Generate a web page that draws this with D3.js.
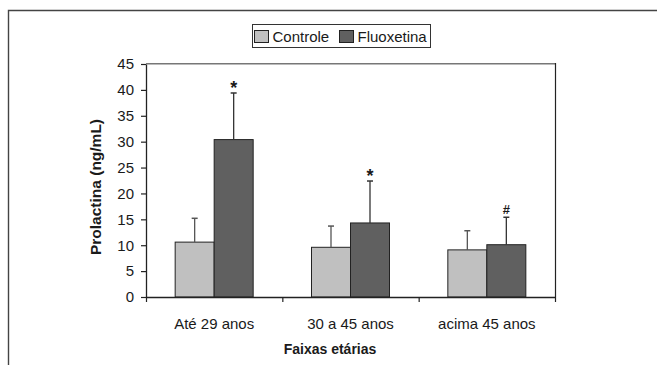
<!DOCTYPE html>
<html>
<head>
<meta charset="utf-8">
<script src="https://cdn.jsdelivr.net/npm/d3@7"></script>
<style>
  html, body { margin: 0; padding: 0; background: #fff; }
  svg { display: block; font-family: "Liberation Sans", Arial, sans-serif; }
</style>
</head>
<body>
<svg id="chart" width="657" height="365"></svg>
<script>
// Prolactin levels by age group, control vs fluoxetine
const categories = ["Até 29 anos", "30 a 45 anos", "acima 45 anos"];
const seriesNames = ["Controle", "Fluoxetina"];
const controleMean = [10.6, 9.6, 9.1];
const controleSD = [4.6, 4.1, 3.7];
const fluoxetinaMean = [30.4, 14.3, 10.1];
const fluoxetinaSD = [9.0, 8.1, 5.3];
const marks = ["*", "*", "#"];
const yTicks = [0, 5, 10, 15, 20, 25, 30, 35, 40, 45];

const colors = { Controle: "#c0c0c0", Fluoxetina: "#606060" };
const ink = "#1a1a1a";

const svg = d3.select("#chart");

// Outer chart frame (open to the right and bottom)
svg.append("path")
  .attr("d", "M8.5,366 V10.5 H658")
  .attr("fill", "none").attr("stroke", "#444").attr("stroke-width", 1.4);

const plot = { left: 146, right: 555, top: 64, bottom: 297 };

const x = d3.scaleBand().domain(categories).range([plot.left, plot.right]).paddingInner(0).paddingOuter(0);
const y = d3.scaleLinear().domain([0, 45]).range([plot.bottom, plot.top]);
const barW = 39;

const data = categories.map((c, i) => ({
  cat: c,
  values: [
    { name: "Controle", mean: controleMean[i], sd: controleSD[i] },
    { name: "Fluoxetina", mean: fluoxetinaMean[i], sd: fluoxetinaSD[i] }
  ],
  mark: marks[i]
}));

// Plot area border: top (gray) and right (dark)
svg.append("line").attr("x1", plot.left).attr("x2", plot.right)
  .attr("y1", plot.top - 0.3).attr("y2", plot.top - 0.3)
  .attr("stroke", "#777").attr("stroke-width", 1.6);
svg.append("line").attr("x1", plot.right + 0.5).attr("x2", plot.right + 0.5)
  .attr("y1", plot.top - 1).attr("y2", plot.bottom)
  .attr("stroke", "#222").attr("stroke-width", 1.2);

// Bars
const groups = svg.append("g").selectAll("g").data(data).join("g")
  .attr("transform", d => `translate(${x(d.cat) + x.bandwidth() / 2},0)`);

groups.selectAll("rect").data(d => d.values).join("rect")
  .attr("x", (d, i) => (i - 1) * barW)
  .attr("y", d => y(d.mean))
  .attr("width", barW)
  .attr("height", d => y(0) - y(d.mean))
  .attr("fill", d => colors[d.name])
  .attr("stroke", "#222").attr("stroke-width", 1);

// Error bars (upper only)
groups.selectAll("g.err").data(d => d.values).join("g").attr("class", "err")
  .each(function (d, i) {
    const g = d3.select(this);
    const cx = (i - 0.5) * barW;
    const col = i === 0 ? "#555" : "#333";
    g.append("line").attr("x1", cx).attr("x2", cx)
      .attr("y1", y(d.mean)).attr("y2", y(d.mean + d.sd))
      .attr("stroke", col).attr("stroke-width", 1.3);
    g.append("line").attr("x1", cx - 3).attr("x2", cx + 3)
      .attr("y1", y(d.mean + d.sd)).attr("y2", y(d.mean + d.sd))
      .attr("stroke", col).attr("stroke-width", 1.5);
  });

// Significance marks above fluoxetine bars
groups.append("text")
  .attr("x", 0.5 * barW)
  .attr("y", d => y(d.values[1].mean + d.values[1].sd) + (d.mark === "*" ? 1 : -3))
  .attr("text-anchor", "middle")
  .attr("font-size", d => d.mark === "*" ? 18 : 13)
  .attr("font-weight", "bold").attr("fill", ink)
  .text(d => d.mark);

// Y axis
const yAxis = svg.append("g").attr("transform", `translate(${plot.left},0)`)
  .call(d3.axisLeft(y).tickValues(yTicks).tickSize(5).tickPadding(7).tickSizeOuter(0));
yAxis.select(".domain").attr("stroke", "#222").attr("stroke-width", 1.3);
yAxis.selectAll(".tick line").attr("stroke", "#222").attr("stroke-width", 1.2);
yAxis.selectAll(".tick text").attr("font-size", 15).attr("fill", ink)
  .attr("font-family", "Liberation Sans, Arial, sans-serif");

// X axis
const xAxis = svg.append("g").attr("transform", `translate(0,${plot.bottom})`)
  .call(d3.axisBottom(x).tickSize(0).tickPadding(21).tickSizeOuter(0));
xAxis.select(".domain").attr("stroke", "#222").attr("stroke-width", 1.3);
xAxis.selectAll(".tick text").attr("font-size", 15).attr("fill", ink)
  .attr("font-family", "Liberation Sans, Arial, sans-serif");
// Boundary ticks between categories
const boundaries = categories.map(c => x(c)).concat([x.range()[1]]);
svg.append("g").selectAll("line").data(boundaries).join("line")
  .attr("x1", d => d + 0.5).attr("x2", d => d + 0.5)
  .attr("y1", plot.bottom).attr("y2", plot.bottom + 5)
  .attr("stroke", "#222").attr("stroke-width", 1.2);

// Axis titles
svg.append("text")
  .attr("transform", `translate(101,187) rotate(-90)`)
  .attr("text-anchor", "middle")
  .attr("font-size", 15.5).attr("font-weight", "bold").attr("fill", ink)
  .text("Prolactina (ng/mL)");
svg.append("text")
  .attr("x", 330).attr("y", 354)
  .attr("text-anchor", "middle")
  .attr("font-size", 14).attr("font-weight", "bold").attr("fill", ink)
  .text("Faixas etárias");

// Legend
const legend = svg.append("g");
legend.append("rect").attr("x", 252.5).attr("y", 24.5).attr("width", 178).attr("height", 23)
  .attr("fill", "#fff").attr("stroke", "#333").attr("stroke-width", 1);
const legendX = [254.5, 339.5];
seriesNames.forEach((s, i) => {
  legend.append("rect").attr("x", legendX[i]).attr("y", 30.5).attr("width", 14).attr("height", 12)
    .attr("fill", colors[s]).attr("stroke", "#222").attr("stroke-width", 1);
  legend.append("text").attr("x", legendX[i] + 18).attr("y", 41.5)
    .attr("font-size", 15).attr("fill", ink).text(s);
});
</script>
</body>
</html>
